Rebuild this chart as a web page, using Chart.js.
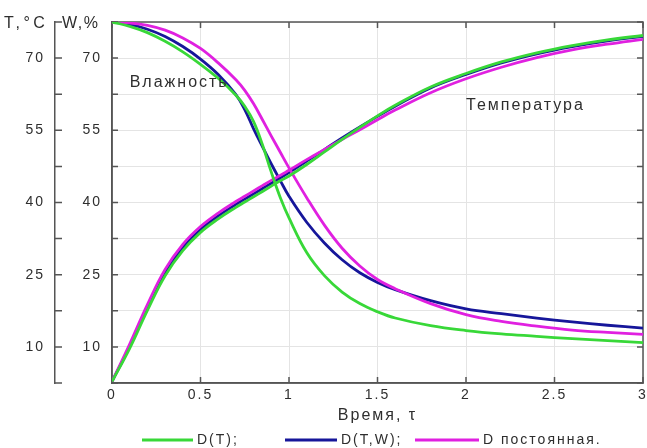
<!DOCTYPE html>
<html>
<head>
<meta charset="utf-8">
<script src="https://cdn.jsdelivr.net/npm/chart.js@4.4.1/dist/chart.umd.min.js"></script>
<style>
  html, body { margin: 0; padding: 0; background: #ffffff; }
</style>
</head>
<body>
<canvas id="chart" width="647" height="448"></canvas>
<script>
// Time axis (dimensionless time τ)
const time = [0, 0.1, 0.2, 0.3, 0.4, 0.5, 0.6, 0.7, 0.75, 0.8, 0.85, 0.9, 0.95, 1.0,
              1.1, 1.2, 1.3, 1.4, 1.5, 1.6, 1.8, 2.0, 2.2, 2.4, 2.6, 2.8, 3.0];

// Moisture content W, % for the three diffusion-coefficient models
const humidityDT    = [77.5, 76.6, 75.3, 73.5, 71.3, 68.7, 65.8, 62.3, 60.0, 56.8, 52.0, 46.3, 41.1, 36.8,
                       29.6, 24.8, 21.4, 19.0, 17.3, 16.0, 14.4, 13.4, 12.7, 12.2, 11.7, 11.3, 10.9];
const humidityDTW   = [77.5, 77.0, 76.0, 74.5, 72.4, 69.8, 66.6, 62.4, 59.3, 55.3, 51.6, 48.0, 44.6, 41.3,
                       35.9, 31.6, 28.1, 25.4, 23.4, 21.9, 19.6, 17.9, 16.9, 16.0, 15.2, 14.5, 13.9];
const humidityConst = [77.5, 77.3, 76.8, 75.8, 74.2, 72.0, 69.0, 65.5, 63.3, 60.5, 57.2, 53.8, 50.5, 47.2,
                       41.0, 35.3, 30.5, 26.8, 24.0, 22.1, 19.0, 16.7, 15.3, 14.3, 13.5, 13.0, 12.6];

// Temperature T, °C for the same three models
const tempDT    = [2.8, 9.7, 17.6, 24.8, 30.0, 33.8, 36.6, 39.0, 40.1, 41.2, 42.3, 43.4, 44.5, 45.5,
                   47.9, 50.5, 53.1, 55.6, 58.0, 60.2, 64.0, 66.8, 69.2, 71.1, 72.6, 73.8, 74.7];
const tempDTW   = [2.8, 10.1, 18.2, 25.5, 30.7, 34.4, 37.2, 39.6, 40.7, 41.8, 42.9, 44.0, 45.1, 46.2,
                   48.6, 51.0, 53.4, 55.7, 57.9, 60.0, 63.8, 66.6, 69.0, 70.9, 72.4, 73.6, 74.5];
const tempConst = [2.8, 10.6, 18.8, 26.1, 31.3, 35.0, 37.8, 40.2, 41.3, 42.4, 43.5, 44.6, 45.6, 46.7,
                   48.9, 51.0, 53.1, 55.1, 57.2, 59.2, 62.8, 65.7, 68.1, 70.1, 71.7, 72.9, 73.9];

// Axis ticks and labels
const xTicks = [0, 0.5, 1, 1.5, 2, 2.5, 3];
const yLabelled = [10, 25, 40, 55, 70];
const legendLabels = ['D(T);', 'D(T,W);', 'D постоянная.'];
const curveNotes = [
  { text: 'Влажность', x: 0.1, y: 64.9 },
  { text: 'Температура', x: 2.0, y: 60.2 }
];

const COLORS = ['#38d838', '#16169a', '#e020e0'];
const AXIS = '#555555';
const TEXT = '#2e2e2e';
const FONT = '"Liberation Sans", Arial, sans-serif';

Chart.defaults.font.family = FONT;
Chart.defaults.font.size = 14;
Chart.defaults.color = TEXT;

const pts = arr => time.map((t, i) => ({ x: t, y: arr[i] }));
const series = (data, color, axis) => ({
  data: pts(data), yAxisID: axis, borderColor: color, backgroundColor: color,
  borderWidth: 2.8, pointRadius: 0, fill: false, tension: 0.4
});

// Index 0 is drawn on top
const datasets = [
  series(humidityDT, COLORS[0], 'yW'),
  series(tempDT, COLORS[0], 'yT'),
  series(humidityConst, COLORS[2], 'yW'),
  series(tempConst, COLORS[2], 'yT'),
  series(humidityDTW, COLORS[1], 'yW'),
  series(tempDTW, COLORS[1], 'yT')
];

const noPad = s => { s.paddingLeft = 0; s.paddingRight = 0; s.paddingTop = 0; s.paddingBottom = 0; };

const framePlugin = {
  id: 'frame',
  beforeDraw(chart) {
    chart.ctx.letterSpacing = '2px';
  },
  beforeDatasetsDraw(chart) {
    const { ctx, chartArea: a, scales } = chart;
    ctx.save();
    ctx.strokeStyle = AXIS;
    ctx.lineWidth = 1.5;
    ctx.strokeRect(a.left, a.top, a.right - a.left, a.bottom - a.top);
    ctx.beginPath();
    // inward tick marks on all four sides and on the outer temperature axis
    scales.yW.ticks.forEach(t => {
      const y = scales.yW.getPixelForValue(t.value);
      ctx.moveTo(a.left, y); ctx.lineTo(a.left + 6, y);
      ctx.moveTo(a.right, y); ctx.lineTo(a.right - 6, y);
      const xo = scales.yT.right;
      ctx.moveTo(xo, y); ctx.lineTo(xo + 7, y);
    });
    scales.x.ticks.forEach(t => {
      const x = scales.x.getPixelForValue(t.value);
      ctx.moveTo(x, a.bottom); ctx.lineTo(x, a.bottom - 6);
      ctx.moveTo(x, a.top); ctx.lineTo(x, a.top + 6);
    });
    ctx.stroke();
    ctx.restore();
  },
  afterDraw(chart) {
    const { ctx, scales } = chart;
    ctx.save();
    ctx.fillStyle = TEXT;
    ctx.textBaseline = 'middle';
    ctx.textAlign = 'left';
    // axis unit captions
    ctx.font = '16px ' + FONT;
    ctx.letterSpacing = '3.5px';
    ctx.fillText('T,°C', 4, 24);
    ctx.letterSpacing = '1.5px';
    ctx.fillText('W,%', 62, 24);
    // curve group notes
    ctx.letterSpacing = '2px';
    curveNotes.forEach(n => {
      ctx.fillText(n.text, scales.x.getPixelForValue(n.x), scales.yW.getPixelForValue(n.y));
    });
    // legend row
    const starts = [142, 285, 415];
    const lens = [51, 52, 64];
    const ly = 440;
    ctx.font = '14px ' + FONT;
    legendLabels.forEach((lab, i) => {
      ctx.strokeStyle = COLORS[i];
      ctx.lineWidth = 3;
      ctx.beginPath();
      ctx.moveTo(starts[i], ly);
      ctx.lineTo(starts[i] + lens[i], ly);
      ctx.stroke();
      ctx.fillStyle = TEXT;
      ctx.fillText(lab, starts[i] + lens[i] + 4, ly);
    });
    ctx.restore();
  }
};

new Chart(document.getElementById('chart'), {
  type: 'line',
  data: { datasets },
  options: {
    responsive: false,
    animation: false,
    devicePixelRatio: 1,
    layout: { padding: { top: 22, right: 4, bottom: 23, left: 0 } },
    plugins: { legend: { display: false }, tooltip: { enabled: false } },
    scales: {
      x: {
        type: 'linear', min: 0, max: 3,
        afterBuildTicks: s => { s.ticks = xTicks.map(v => ({ value: v })); },
        afterFit: s => { s.height = 42; noPad(s); },
        ticks: { autoSkip: false, maxRotation: 0, padding: 4, callback: v => String(v) },
        grid: { color: '#e4e4e4', lineWidth: 1, drawTicks: false },
        border: { color: AXIS, width: 1.5 },
        title: { display: true, text: 'Время, τ', font: { size: 16 }, padding: { top: 0, bottom: 0 } }
      },
      yT: {
        type: 'linear', position: 'left', weight: 10, min: 2.5, max: 77.5,
        afterFit: s => { s.width = 55; noPad(s); },
        ticks: { stepSize: 7.5, autoSkip: false, padding: 10,
                 callback: v => yLabelled.includes(v) ? String(v) : '' },
        grid: { color: 'rgba(0,0,0,0)', drawTicks: false },
        border: { color: AXIS, width: 1.5 }
      },
      yW: {
        type: 'linear', position: 'left', weight: 0, min: 2.5, max: 77.5,
        afterFit: s => { s.width = 57; noPad(s); },
        ticks: { stepSize: 7.5, autoSkip: false, padding: 10,
                 callback: v => yLabelled.includes(v) ? String(v) : '' },
        grid: { color: '#e4e4e4', lineWidth: 1, drawTicks: false },
        border: { color: AXIS, width: 1.5 }
      }
    }
  },
  plugins: [framePlugin]
});
</script>
</body>
</html>
